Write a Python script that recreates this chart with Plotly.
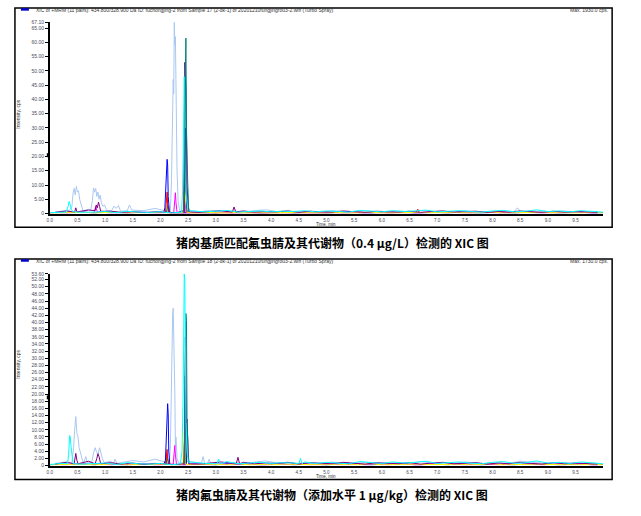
import plotly.graph_objects as go

# ---------------- data (intensity in 10^3 cps, time in min) ----------------
X_TICKS = [0.0, 0.5, 1.0, 1.5, 2.0, 2.5, 3.0, 3.5, 4.0, 4.5, 5.0, 5.5, 6.0, 6.5, 7.0, 7.5, 8.0, 8.5, 9.0, 9.5]
X_TEXT = ["0.0", "0.5", "1.0", "1.5", "2.0", "2.5", "3.0", "3.5", "4.0", "4.5",
          "5.0", "5.5", "6.0", "6.5", "7.0", "7.5", "8.0", "8.5", "9.0", "9.5"]
Y1_TICKS = [0, 5, 10, 15, 20, 25, 30, 35, 40, 45, 50, 55, 60, 65, 67.1]
Y1_TEXT = ["0", "5.00", "10.00", "15.00", "20.00", "25.00", "30.00", "35.00", "40.00",
           "45.00", "50.00", "55.00", "60.00", "65.00", "67.10"]
Y2_TICKS = [0, 2, 4, 6, 8, 10, 12, 14, 16, 18, 20, 22, 24, 26, 28, 30, 32, 34, 36, 38,
            40, 42, 44, 46, 48, 50, 52, 53.6]
Y2_TEXT = ["0", "2.00", "4.00", "6.00", "8.00", "10.00", "12.00", "14.00", "16.00", "18.00",
           "20.00", "22.00", "24.00", "26.00", "28.00", "30.00", "32.00", "34.00", "36.00",
           "38.00", "40.00", "42.00", "44.00", "46.00", "48.00", "50.00", "52.00", "53.60"]

# baseline noise time grids
NT_A = [0.0, 0.2, 0.4, 0.6, 0.8, 1.0, 1.2, 1.4, 1.6, 1.8, 2.0, 2.2, 2.4, 2.6, 2.8, 3.0, 3.2,
        3.4, 3.6, 3.8, 4.0, 4.2, 4.4, 4.6, 4.8, 5.0, 5.2, 5.4, 5.6, 5.8, 6.0, 6.2, 6.4, 6.6,
        6.8, 7.0, 7.2, 7.4, 7.6, 7.8, 8.0, 8.2, 8.4, 8.6, 8.8, 9.0, 9.2, 9.4, 9.6, 9.8, 10.0]
NT_B = [0.1, 0.3, 0.5, 0.7, 0.9, 1.1, 1.3, 1.5, 1.7, 1.9, 2.1, 2.3, 2.5, 2.7, 2.9, 3.1, 3.3,
        3.5, 3.7, 3.9, 4.1, 4.3, 4.5, 4.7, 4.9, 5.1, 5.3, 5.5, 5.7, 5.9, 6.1, 6.3, 6.5, 6.7,
        6.9, 7.1, 7.3, 7.5, 7.7, 7.9, 8.1, 8.3, 8.5, 8.7, 8.9, 9.1, 9.3, 9.5, 9.7, 9.9]

CYAN_N = [0.3, 0.6, 0.9, 0.4, 0.5, 0.7, 0.3, 0.8, 0.5, 0.4,
          0.6, 0.2, 0.5, 0.9, 0.6, 0.8, 1.1, 0.5, 0.7, 0.9,
          0.6, 0.8, 0.7, 1.0, 0.6, 0.9, 0.7, 0.5, 1.1, 0.8,
          0.6, 1.0, 0.7, 0.9, 1.2, 0.6, 0.8, 1.0, 0.7, 0.5,
          0.9, 1.1, 0.6, 0.8, 1.3, 0.7, 0.9, 0.6, 1.0, 0.8, 0.5]
PURPLE_N = [0.4, 0.9, 0.6, 1.2, 0.5, 0.8, 0.4, 0.7, 0.3, 0.6,
            0.5, 0.3, 0.6, 0.4, 0.8, 1.0, 0.6, 0.9, 0.5, 0.7,
            0.6, 0.9, 0.4, 0.8, 0.6, 0.5, 0.9, 0.7, 0.4, 0.8,
            0.6, 0.5, 0.8, 0.4, 0.7, 0.9, 0.5, 0.6, 0.8, 0.4,
            0.7, 0.5, 0.9, 0.6, 0.4, 0.8, 0.5, 0.7, 0.6, 0.4]
LIGHTBLUE_N = [0.6, 1.0, 0.7, 1.5, 0.8, 1.2, 0.9, 1.4, 1.0, 1.8,
               0.9, 0.5, 1.2, 0.6, 1.1, 0.7, 0.9, 0.6, 1.0, 1.3,
               0.7, 0.9, 0.6, 0.8, 0.5, 1.0, 0.7, 0.6, 0.9, 0.8,
               0.5, 0.9, 0.6, 1.1, 0.7, 0.8, 0.6, 1.0, 0.7, 0.5,
               0.8, 0.6, 1.2, 0.9, 0.7, 0.6, 0.9, 0.5, 0.7, 0.6]
BLUE_N = [0.2, 0.4, 0.3, 0.5, 0.2, 0.6, 0.3, 0.2, 0.4, 0.3,
          0.5, 0.3, 0.2, 0.4, 0.3, 0.2, 0.5, 0.3, 0.4, 0.2,
          0.3, 0.5, 0.2, 0.4, 0.3, 0.2, 0.4, 0.6, 0.3, 0.2,
          0.4, 0.3, 0.5, 0.2, 0.3, 0.4, 0.2, 0.5, 0.3, 0.2,
          0.4, 0.3, 0.2, 0.5, 0.3, 0.4, 0.2, 0.3, 0.5, 0.2, 0.3]
MAGENTA_N = [0.3, 0.2, 0.5, 0.3, 0.6, 0.2, 0.4, 0.3, 0.5, 0.2,
             0.3, 0.4, 0.2, 0.5, 0.3, 0.4, 0.2, 0.6, 0.3, 0.2,
             0.5, 0.3, 0.4, 0.2, 0.3, 0.5, 0.2, 0.4, 0.3, 0.6,
             0.2, 0.4, 0.3, 0.2, 0.5, 0.3, 0.4, 0.2, 0.3, 0.5,
             0.2, 0.4, 0.3, 0.5, 0.2, 0.3, 0.4, 0.6, 0.3, 0.2]
YELLOW_N = [0.2, 0.3, 0.2, 0.4, 0.2, 0.3, 0.5, 0.2, 0.3, 0.2,
            0.4, 0.2, 0.3, 0.2, 0.4, 0.3, 0.2, 0.5, 0.2, 0.3,
            0.2, 0.4, 0.3, 0.2, 0.3, 0.2, 0.4, 0.2, 0.3, 0.5,
            0.2, 0.3, 0.2, 0.4, 0.3, 0.2, 0.3, 0.4, 0.2, 0.3,
            0.5, 0.2, 0.3, 0.2, 0.4, 0.3, 0.2, 0.3, 0.2, 0.4, 0.2]

# ---- panel 1: matrix-matched standard ----
P1_LB_T = [0.35, 0.40, 0.42, 0.44, 0.46, 0.48, 0.50, 0.52, 0.54, 0.57, 0.60,
           0.74, 0.77, 0.79, 0.81, 0.83, 0.85, 0.87, 0.89, 0.91, 0.93, 0.96, 0.99, 1.03,
           1.12, 1.16, 1.20, 1.24, 1.28, 1.40, 1.44, 1.48,
           2.18, 2.20, 2.21, 2.22, 2.23, 2.24, 2.25, 2.26, 2.27, 2.28, 2.30, 2.32, 2.35,
           8.40, 8.45, 8.50]
P1_LB_Y = [0.8, 2.5, 7.0, 8.8, 6.5, 9.5, 7.5, 8.0, 5.0, 2.5, 1.0,
           1.2, 4.5, 9.0, 7.5, 8.8, 6.0, 7.5, 5.0, 6.5, 4.0, 2.5, 3.0, 1.0,
           1.0, 2.6, 1.8, 2.8, 0.8, 1.0, 3.0, 1.2,
           1.0, 12, 22, 30, 47, 42, 67.1, 59, 62, 38, 15, 4, 0.8,
           0.8, 2.0, 0.7]
P1_CY_T = [0.30, 0.33, 0.35, 0.37, 0.39, 0.42, 2.38, 2.40, 2.41, 2.42, 2.43, 2.44, 2.45, 2.47, 2.50]
P1_CY_Y = [0.5, 2.5, 4.2, 3.0, 1.5, 0.6, 0.5, 8, 20, 47, 48, 25, 12, 5, 1.0]
P1_PU_T = [0.45, 0.47, 0.49, 0.82, 0.84, 0.86, 0.88, 0.90, 0.92,
           2.42, 2.43, 2.44, 2.45, 2.46, 2.47, 2.48, 2.50, 2.52, 3.30, 3.33, 3.36]
P1_PU_Y = [0.5, 2.0, 0.6, 1.0, 3.0, 2.0, 4.0, 2.5, 0.8,
           1.0, 20, 53, 49, 43, 12, 10, 3, 0.6, 0.5, 2.3, 0.6]
P1_TE_T = [2.42, 2.44, 2.45, 2.46, 2.47, 2.48, 2.49, 2.51]
P1_TE_Y = [0.3, 8, 50, 61.5, 30, 15, 12.5, 0.5]
P1_BL_T = [2.06, 2.08, 2.10, 2.11, 2.12, 2.13, 2.14, 2.16, 2.18]
P1_BL_Y = [0.3, 2, 10, 12, 19, 17, 6, 1, 0.3]
P1_RD_T = [2.09, 2.11, 2.12, 2.13, 2.15, 6.62, 6.65, 6.68]
P1_RD_Y = [0.2, 5, 7.5, 3, 0.2, 0.3, 1.5, 0.3]
P1_GR_T = [2.11, 2.13, 2.14, 2.16]
P1_GR_Y = [0.2, 3, 2.5, 0.2]
P1_MG_T = [0.80, 0.83, 0.86, 2.24, 2.26, 2.27, 2.28, 2.30, 2.42, 2.44, 2.46]
P1_MG_Y = [0.3, 2.5, 0.5, 0.3, 5, 7.3, 4, 0.4, 0.5, 6, 0.5]
P1_YE_T = [2.41, 2.43, 2.44, 2.45, 2.47]
P1_YE_Y = [0.5, 14, 11, 6, 0.5]
P1_NV_T = [2.43, 2.45, 2.46, 2.48]
P1_NV_Y = [0.5, 30, 10, 0.5]

# ---- panel 2: spiked sample 1 ug/kg ----
P2_LB_T = [0.40, 0.43, 0.45, 0.47, 0.49, 0.51, 0.53, 0.56, 0.60, 0.62, 0.65, 0.68,
           0.76, 0.79, 0.82, 0.84, 0.87, 0.90, 0.92, 0.95, 0.98, 1.15, 1.18, 1.21,
           2.16, 2.18, 2.20, 2.21, 2.22, 2.23, 2.24, 2.25, 2.26, 2.27, 2.28, 2.30, 2.33,
           2.74, 2.77, 2.80, 2.85, 2.88, 2.91]
P2_LB_Y = [0.8, 5, 10, 13.7, 9, 8, 5, 3, 1, 1, 2.5, 0.8,
           1, 3.5, 5, 4, 3, 5, 3.5, 2, 0.8, 0.6, 1.8, 0.6,
           0.5, 5.5, 26, 41.5, 42, 44, 38, 34, 20, 5.5, 8, 2, 0.6,
           0.6, 2.5, 0.6, 0.5, 1.8, 0.5]
P2_CY_T = [0.32, 0.34, 0.36, 0.37, 0.38, 0.40, 0.42, 2.36, 2.39, 2.41, 2.42, 2.43, 2.44,
           2.45, 2.46, 2.48, 2.50, 3.02, 3.05, 3.08, 4.50, 4.53, 4.56]
P2_CY_Y = [0.5, 3, 8.4, 8, 6, 2, 0.5, 0.5, 4, 20, 45, 53.6, 51.5, 30, 12, 4, 1,
           0.5, 1.8, 0.5, 0.5, 2.0, 0.5]
P2_TE_T = [2.43, 2.45, 2.46, 2.47, 2.48, 2.50, 2.52]
P2_TE_Y = [0.5, 30, 42.5, 40.5, 13, 3, 0.5]
P2_PU_T = [0.44, 0.47, 0.49, 0.51, 0.82, 0.85, 0.87, 0.89, 0.92,
           2.42, 2.44, 2.45, 2.46, 2.47, 2.48, 2.49, 2.51, 3.37, 3.40, 3.43]
P2_PU_Y = [0.5, 3.4, 1.5, 0.5, 0.5, 2, 3.3, 2.5, 0.5,
           0.5, 10, 36, 20, 12, 13, 6, 0.5, 0.5, 2.3, 0.5]
P2_BL_T = [2.06, 2.09, 2.10, 2.11, 2.12, 2.13, 2.14, 2.15, 2.17]
P2_BL_Y = [0.3, 1.5, 5, 9, 16, 17.3, 14.5, 4, 0.3]
P2_RD_T = [2.09, 2.11, 2.12, 2.13, 2.15]
P2_RD_Y = [0.2, 3, 4.5, 2, 0.2]
P2_GR_T = [2.10, 2.12, 2.13, 2.15]
P2_GR_Y = [0.2, 2.5, 2, 0.2]
P2_MG_T = [2.23, 2.25, 2.26, 2.27, 2.29]
P2_MG_Y = [0.3, 4, 5.6, 3, 0.3]
P2_YE_T = [2.40, 2.42, 2.43, 2.44, 2.46]
P2_YE_Y = [0.3, 6, 9.5, 5, 0.3]
P2_NV_T = [2.44, 2.45, 2.47]
P2_NV_Y = [0.5, 25, 0.5]

HEADER1 = "XIC of +MRM (11 pairs): 434.800/328.900 Da ID: fuchongjing-2 from Sample 17 (2-dk-1) of 20201210fungjingrou3-2.wiff (Turbo Spray)"
HEADER2 = "XIC of +MRM (11 pairs): 434.800/328.900 Da ID: fuchongjing-2 from Sample 18 (2-dk-1) of 20201210fungjingrou3-2.wiff (Turbo Spray)"
MAX1 = "Max. 1930.0 cps."
MAX2 = "Max. 1730.0 cps."
CAPTION1 = "猪肉基质匹配氟虫腈及其代谢物（0.4 μg/L）检测的 XIC 图"
CAPTION2 = "猪肉氟虫腈及其代谢物（添加水平 1 μg/kg）检测的 XIC 图"

COLORS = {"lb": "#A9C8F0", "gr": "#008000", "rd": "#FF0000", "bl": "#0000FF",
          "mg": "#FF00FF", "ye": "#FFFF00", "nv": "#3A0070", "pu": "#800080",
          "cy": "#00FFFF", "te": "#008080"}

W, H = 641, 516


def merge(pt, py, nt=None, ny=None):
    pts = list(zip(pt, py))
    if nt is not None:
        for t, v in zip(nt, ny):
            if min(abs(t - x) for x in pt) >= 0.035:
                pts.append((t, v))
    pts.sort()
    return [p[0] for p in pts], [p[1] for p in pts]


panels = [
    ("x", "y", [
        ("lb", P1_LB_T, P1_LB_Y, NT_B, LIGHTBLUE_N),
        ("gr", P1_GR_T, P1_GR_Y, None, None),
        ("rd", P1_RD_T, P1_RD_Y, None, None),
        ("bl", P1_BL_T, P1_BL_Y, NT_A, BLUE_N),
        ("mg", P1_MG_T, P1_MG_Y, NT_B, MAGENTA_N),
        ("ye", P1_YE_T, P1_YE_Y, NT_A, YELLOW_N),
        ("nv", P1_NV_T, P1_NV_Y, None, None),
        ("pu", P1_PU_T, P1_PU_Y, NT_B, PURPLE_N),
        ("cy", P1_CY_T, P1_CY_Y, NT_A, CYAN_N),
        ("te", P1_TE_T, P1_TE_Y, None, None),
    ]),
    ("x2", "y2", [
        ("lb", P2_LB_T, P2_LB_Y, NT_B, LIGHTBLUE_N),
        ("gr", P2_GR_T, P2_GR_Y, None, None),
        ("rd", P2_RD_T, P2_RD_Y, None, None),
        ("bl", P2_BL_T, P2_BL_Y, NT_A, BLUE_N),
        ("mg", P2_MG_T, P2_MG_Y, NT_B, MAGENTA_N),
        ("ye", P2_YE_T, P2_YE_Y, NT_A, YELLOW_N),
        ("nv", P2_NV_T, P2_NV_Y, None, None),
        ("pu", P2_PU_T, P2_PU_Y, NT_B, PURPLE_N),
        ("te", P2_TE_T, P2_TE_Y, None, None),
        ("cy", P2_CY_T, P2_CY_Y, NT_A, CYAN_N),
    ]),
]

fig = go.Figure()
for xa, ya, traces in panels:
    for key, t, y, nt, ny in traces:
        xs, ys = merge(t, y, nt, ny)
        fig.add_trace(go.Scatter(x=xs, y=ys, mode="lines", xaxis=xa, yaxis=ya,
                                 line=dict(color=COLORS[key], width=1), hoverinfo="skip"))


def px(v):
    return v / W


def py(v):
    return 1 - v / H


tick_font = dict(family="Liberation Sans, Arial", size=5, color="#4a4a5a")
common_x = dict(range=[0, 10], tickvals=X_TICKS, ticktext=X_TEXT, showgrid=False, zeroline=False,
                showline=True, linecolor="black", linewidth=1.5, ticks="outside", ticklen=1,
                tickcolor="black", tickfont=dict(family="Liberation Sans, Arial", size=4.6, color="#4a4a5a"))
common_y = dict(showgrid=False, zeroline=False, showline=True, linecolor="black", linewidth=1.5,
                ticks="outside", ticklen=3, tickcolor="black", tickfont=tick_font)

fig.update_layout(
    width=W, height=H, autosize=False, showlegend=False,
    margin=dict(l=0, r=0, t=0, b=0),
    paper_bgcolor="white", plot_bgcolor="white",
    xaxis=dict(domain=[px(47), px(603)], anchor="y", **common_x),
    yaxis=dict(domain=[py(213), py(19.4)], anchor="x", range=[0, 67.1],
               tickvals=Y1_TICKS, ticktext=Y1_TEXT, **common_y),
    xaxis2=dict(domain=[px(47), px(603)], anchor="y2", **common_x),
    yaxis2=dict(domain=[py(468), py(274)], anchor="x2", range=[0, 53.6],
                tickvals=Y2_TICKS, ticktext=Y2_TEXT, **common_y),
)

small = dict(family="Liberation Sans, Arial", size=5, color="#333")
title_font = dict(family="Liberation Sans, Arial", size=4.5, color="#333")
cap_font = dict(family="Noto Sans CJK SC", size=12, color="black")
shapes = []
annots = []
for (top, bot, xaxis_y, header, mx, cap, cap_y, ytitle_y, marker_y) in [
    (5, 227, 224.3, HEADER1, MAX1, CAPTION1, 242, 112, 154),
    (259, 482, 479.3, HEADER2, MAX2, CAPTION2, 497, 365, 399),
]:
    shapes.append(dict(type="rect", xref="paper", yref="paper", x0=px(12), x1=px(612),
                       y0=py(bot), y1=py(top), line=dict(color="black", width=1.5)))
    shapes.append(dict(type="line", xref="paper", yref="paper", x0=px(18), x1=px(26),
                       y0=py(top + 1.5), y1=py(top + 1.5), line=dict(color="#0000CC", width=2.5)))
    shapes.append(dict(type="rect", xref="paper", yref="paper", x0=px(44), x1=px(47),
                       y0=py(marker_y + 2), y1=py(marker_y - 2), fillcolor="black",
                       line=dict(width=0)))
    annots.append(dict(text=header, xref="paper", yref="paper", x=px(31), y=py(top + 2),
                       xanchor="left", yanchor="middle", showarrow=False, font=small))
    annots.append(dict(text=mx, xref="paper", yref="paper", x=px(610), y=py(top + 2),
                       xanchor="right", yanchor="middle", showarrow=False, font=small))
    annots.append(dict(text="Intensity, cps", xref="paper", yref="paper", x=px(15), y=py(ytitle_y),
                       xanchor="center", yanchor="middle", textangle=-90, showarrow=False, font=small))
    annots.append(dict(text="Time, min", xref="paper", yref="paper", x=px(313), y=py(xaxis_y),
                       xanchor="left", yanchor="middle", showarrow=False, font=title_font,
                       borderpad=0))
    annots.append(dict(text="<b>" + cap + "</b>", xref="paper", yref="paper", x=px(331), y=py(cap_y),
                       xanchor="center", yanchor="middle", showarrow=False, font=cap_font))

fig.update_layout(shapes=shapes, annotations=annots)
fig.write_html("out.html", config={"displayModeBar": False},
               post_script="document.body.style.margin='0';document.body.style.overflow='hidden';")
